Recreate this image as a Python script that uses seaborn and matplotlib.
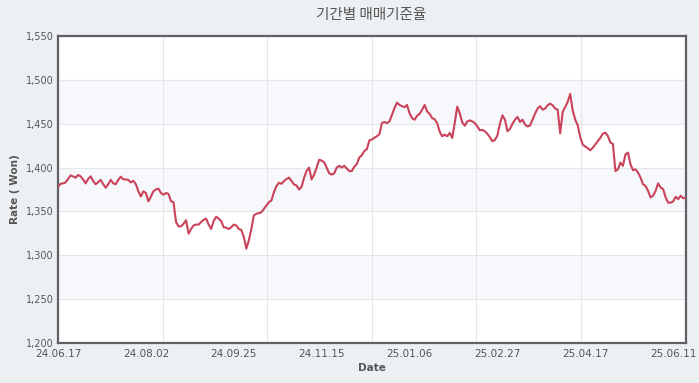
import numpy as np
import pandas as pd
import matplotlib
matplotlib.use('Agg')
import matplotlib.pyplot as plt
import matplotlib.ticker as mticker
import seaborn as sns

# Data (daily base rate, KRW per USD)
rate_2024_summer = [1378, 1381.5, 1382, 1383, 1387, 1391, 1390, 1388.5, 1391.5, 1390,
                    1386.5, 1382, 1387, 1390, 1384.6, 1381, 1383.5, 1386, 1381, 1377,
                    1381, 1386, 1382, 1381, 1386, 1389.6, 1386.5, 1386.5, 1386, 1383,
                    1385, 1381, 1373, 1367, 1373, 1371, 1361.5, 1367, 1373, 1375,
                    1376, 1371, 1369, 1371, 1370]
rate_2024_autumn = [1361.7, 1360.6, 1338, 1333, 1333, 1336, 1340, 1324.6, 1330, 1334,
                    1335, 1335, 1338, 1340.5, 1341.7, 1335, 1330, 1339, 1344, 1341.7,
                    1339, 1332, 1331.4, 1330, 1332, 1335, 1334, 1330, 1329, 1320.8,
                    1307.6, 1317, 1330, 1345.5, 1347.3, 1348, 1349, 1353, 1356.8, 1360.6,
                    1362.5]
rate_2024_winter = [1372, 1379, 1382.7, 1381.5, 1384.6, 1387, 1388.5, 1384.6, 1380.8, 1379.6,
                    1375, 1378, 1388.5, 1396, 1400, 1386.5, 1392, 1400, 1409, 1408,
                    1406, 1400, 1393.5, 1392, 1393.5, 1400, 1402, 1400, 1402, 1399,
                    1396, 1396, 1401, 1404, 1411.5, 1414, 1419, 1421]
rate_2025_q1 = [1431, 1432, 1434, 1435.7, 1438, 1450.7, 1452, 1450.7, 1452.6, 1460,
                1467.7, 1474, 1471.4, 1470, 1468.8, 1471.4, 1462, 1456.4, 1454.5, 1459,
                1461.3, 1465.8, 1471.4, 1464, 1461.3, 1456.4, 1455, 1450.7, 1441, 1435.7,
                1437.6, 1435.7, 1439.5, 1433.8, 1450.7, 1469.5, 1462, 1451.5, 1447.7, 1452.6,
                1453.8, 1452.6, 1450.7, 1447, 1442.5]
rate_2025_q2 = [1443, 1441.5, 1438.5, 1434.6, 1430, 1431.5, 1436.5, 1450, 1459.6, 1454.6,
                1441.5, 1444, 1450, 1454.6, 1457.7, 1452, 1454.6, 1449, 1447, 1448,
                1454.6, 1461.5, 1467.3, 1470, 1466, 1467.3, 1471, 1473, 1471, 1467.3,
                1466, 1439, 1463.5, 1469, 1475, 1484, 1465, 1454.6, 1448, 1434.6,
                1426, 1424]
rate_2025_spring = [1422, 1419.7, 1422.7, 1426.5, 1430.3, 1434, 1438.6, 1439.8, 1436, 1428.4,
                    1427, 1396, 1398, 1405.7, 1402, 1415, 1417, 1403.8, 1397, 1398,
                    1394.3, 1388.6, 1381, 1379, 1373.5, 1366, 1368, 1373.5, 1382, 1377.3,
                    1375.4, 1366, 1360, 1360, 1361.4, 1366.7, 1364, 1368, 1365, 1366]

date_labels = ['24.06.17', '24.08.02', '24.09.25', '24.11.15',
               '25.01.06', '25.02.27', '25.04.17', '25.06.11']
label_step = 35

rates = (rate_2024_summer + rate_2024_autumn + rate_2024_winter
         + rate_2025_q1 + rate_2025_q2 + rate_2025_spring)
df = pd.DataFrame({'day': np.arange(len(rates)), 'rate': rates})

sns.set_theme(style='white')
plt.rcParams['font.family'] = ['DejaVu Sans', 'Noto Sans CJK KR']

bg = '#edf0f3'
fig = plt.figure(figsize=(6.99, 3.83), dpi=100, facecolor=bg)
ax = fig.add_axes([0.083, 0.1044, 0.898, 0.8016])
ax.set_facecolor('white')

# alternating horizontal bands
for lo in range(1250, 1550, 100):
    ax.axhspan(lo, lo + 50, color='#f7f8fb', zorder=0, lw=0)

sns.lineplot(data=df, x='day', y='rate', ax=ax, color='#c9435a', linewidth=1.5, zorder=3)

last = len(rates) - 1
ax.set_xlim(0, last)
ax.set_ylim(1200, 1550)
ax.set_yticks(np.arange(1200, 1551, 50))
ax.yaxis.set_major_formatter(mticker.FuncFormatter(lambda v, p: f'{int(v):,}'))
ax.set_xticks([i * label_step for i in range(len(date_labels))])
ax.set_xticklabels(date_labels)
ax.xaxis.set_minor_locator(mticker.FixedLocator(np.linspace(0, last, 7)))

ax.grid(axis='y', which='major', color='#e4e6ea', linewidth=0.8, zorder=1)
ax.grid(axis='x', which='minor', color='#e4e6ea', linewidth=0.8, zorder=1)
ax.grid(axis='x', which='major', visible=False)
ax.set_axisbelow(True)

ax.tick_params(axis='both', which='both', length=0, colors='#555555')
ax.tick_params(axis='x', labelsize=7.5, pad=4)
ax.tick_params(axis='y', labelsize=7, pad=3)

for s in ax.spines.values():
    s.set_visible(True)
    s.set_color('#5f6166')
    s.set_linewidth(1.6)

ax.set_xlabel('Date', fontsize=7.5, fontweight='bold', color='#555555', labelpad=3)
ax.set_ylabel('Rate ( Won)', fontsize=7.5, fontweight='bold', color='#555555', labelpad=4)
fig.text(0.531, 0.961, '기간별 매매기준율', ha='center', va='center', fontsize=10.5,
         color='#555555', family=['Noto Sans CJK KR', 'DejaVu Sans'])

fig.savefig('out.png', dpi=100, facecolor=bg)
